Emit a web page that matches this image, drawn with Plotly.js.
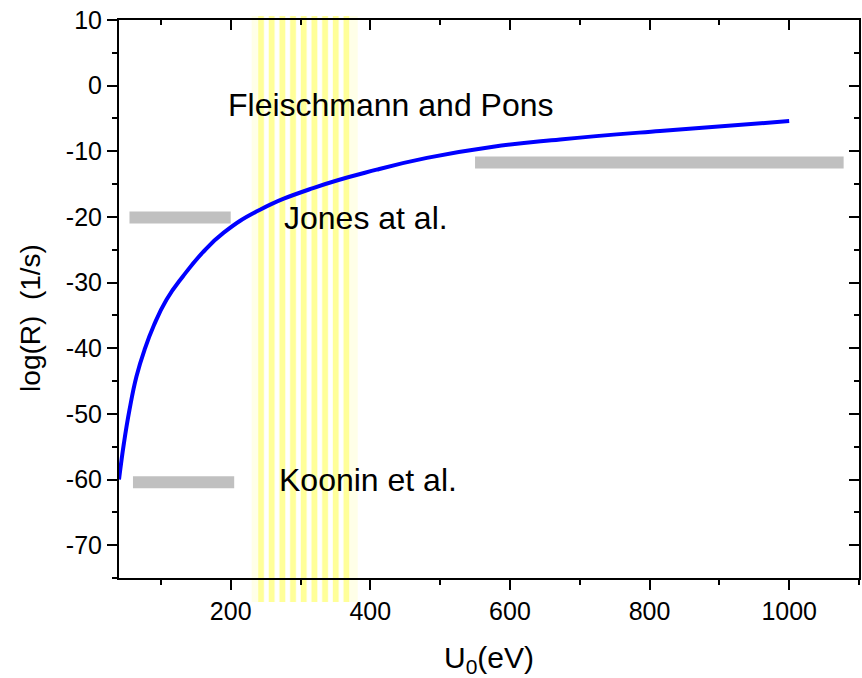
<!DOCTYPE html>
<html>
<head>
<meta charset="utf-8">
<script src="https://cdn.plot.ly/plotly-3.0.1.min.js"></script>
<style>html,body{margin:0;padding:0;background:#fff;}#chart{width:862px;height:678px;}</style>
</head>
<body>
<div id="chart"></div>
<script>
// Blue curve: log(R) vs U0
const curveU    = [40, 47, 55, 65, 77, 90, 108, 132, 160, 190, 242, 318, 409, 481, 576, 672, 815, 1000];
const curveLogR = [-60, -54.5, -49.4, -44.3, -40.1, -36.5, -32.6, -29.0, -25.4, -22.4, -18.9, -15.6, -12.8, -11.0, -9.3, -8.2, -6.9, -5.4];

// Experimental ranges (gray bars)
const expNames = ["Fleischmann and Pons", "Jones at al.", "Koonin et al."];
const expUStart = [550, 55, 60];
const expUEnd   = [1078, 200, 205];
const expLogR   = [-11.7, -20.1, -60.4];

// Label anchor positions
const labelU    = [193, 273, 266];
const labelLogR = [-3.0, -20.2, -60.1];

// Hatched yellow band of U0
const bandUStart = 230;
const bandUEnd = 382;
const stripeFirstU = 243.4;
const stripeStepU = 15.3;
const stripeCount = 9;
const stripeWidthU = 7.9;

// Tick labels (hyphen minus as in the original)
const yTickVals = [10, 0, -10, -20, -30, -40, -50, -60, -70];
const yTickText = ["10", "0", "-10", "-20", "-30", "-40", "-50", "-60", "-70"];
const xTickVals = [200, 400, 600, 800, 1000];
const xTickText = ["200", "400", "600", "800", "1000"];

const xRange = [40, 1100];
const yRange = [-75, 10];

const FONT = "Liberation Sans, Arial, sans-serif";

const traces = [];

for (let i = 0; i < expNames.length; i++) {
  traces.push({
    type: "scatter",
    mode: "lines",
    x: [expUStart[i], expUEnd[i]],
    y: [expLogR[i], expLogR[i]],
    line: {color: "#c0c0c0", width: 12},
    name: expNames[i],
    showlegend: false
  });
}

traces.push({
  type: "scatter",
  mode: "lines",
  x: curveU,
  y: curveLogR,
  line: {color: "#0000ff", width: 4, shape: "spline", smoothing: 1.3},
  name: "log(R)",
  showlegend: false
});

// dummy trace for mirrored top/right axes
traces.push({
  type: "scatter", mode: "markers", x: [xRange[0]], y: [yRange[0]],
  xaxis: "x2", yaxis: "y2", marker: {opacity: 0}, hoverinfo: "skip", showlegend: false
});

// band shapes: faint band + stripes, extending a little beyond the plot vertically
const bandPaperY0 = -0.043, bandPaperY1 = 1.007;
const shapes = [];
shapes.push({type: "rect", layer: "below", xref: "x", yref: "paper",
  x0: bandUStart, x1: bandUEnd, y0: bandPaperY0, y1: bandPaperY1,
  fillcolor: "#ffffe8", line: {width: 0}});
for (let i = 0; i < stripeCount; i++) {
  const c = stripeFirstU + i * stripeStepU;
  shapes.push({type: "rect", layer: "below", xref: "x", yref: "paper",
    x0: c - stripeWidthU / 2, x1: c + stripeWidthU / 2, y0: bandPaperY0, y1: bandPaperY1,
    fillcolor: "#ffff99", line: {width: 0}});
}
for (let i = 0; i < stripeCount - 1; i++) {
  const c = stripeFirstU + (i + 0.5) * stripeStepU;
  shapes.push({type: "rect", layer: "below", xref: "x", yref: "paper",
    x0: c - 2.5, x1: c + 2.5, y0: bandPaperY0, y1: bandPaperY1,
    fillcolor: "#ffffff", line: {width: 0}});
}

const annotations = expNames.map((t, i) => ({
  text: t, x: labelU[i], y: labelLogR[i], xref: "x", yref: "y",
  xanchor: "left", yanchor: "middle", showarrow: false,
  font: {family: FONT, size: 32, color: "#000"}
}));
annotations.push({
  text: "log(R)  (1/s)", xref: "paper", yref: "paper", x: -0.119, y: 0.466,
  xanchor: "center", yanchor: "middle", textangle: -90, showarrow: false,
  font: {family: FONT, size: 28, color: "#000"}
});

const layout = {
  width: 862, height: 678,
  margin: {l: 119, r: 3, t: 20, b: 100},
  paper_bgcolor: "#fff", plot_bgcolor: "rgba(0,0,0,0)",
  font: {family: FONT, color: "#000"},
  xaxis: {
    range: xRange, tickmode: "array", tickvals: xTickVals, ticktext: xTickText,
    ticks: "outside", ticklen: 10, tickwidth: 2,
    tickcolor: "#000", showline: true, linecolor: "#000", linewidth: 2,
    showgrid: false, zeroline: false,
    tickfont: {family: FONT, size: 25, color: "#000"},
    minor: {tickmode: "linear", tick0: 0, dtick: 100, ticks: "outside", ticklen: 5, tickwidth: 2, tickcolor: "#000", showgrid: false},
    title: {text: "U<sub>0</sub>(eV)", font: {family: FONT, size: 30, color: "#000"}, standoff: 25}
  },
  yaxis: {
    range: yRange, tickmode: "array", tickvals: yTickVals, ticktext: yTickText,
    ticks: "outside", ticklen: 10, tickwidth: 2,
    tickcolor: "#000", showline: true, linecolor: "#000", linewidth: 2,
    showgrid: false, zeroline: false,
    tickfont: {family: FONT, size: 25, color: "#000"},
    minor: {tickmode: "linear", tick0: 0, dtick: 5, ticks: "outside", ticklen: 5, tickwidth: 2, tickcolor: "#000", showgrid: false}
  },
  xaxis2: {
    overlaying: "x", side: "top", anchor: "y2", range: xRange, tick0: 0, dtick: 200,
    ticks: "inside", ticklen: 10, tickwidth: 2, tickcolor: "#000",
    showline: true, linecolor: "#000", linewidth: 2, showticklabels: false,
    showgrid: false, zeroline: false,
    minor: {dtick: 100, ticks: "inside", ticklen: 5, tickwidth: 2, tickcolor: "#000", showgrid: false}
  },
  yaxis2: {
    overlaying: "y", side: "right", anchor: "x2", range: yRange, tick0: 0, dtick: 10,
    ticks: "inside", ticklen: 10, tickwidth: 2, tickcolor: "#000",
    showline: true, linecolor: "#000", linewidth: 2, showticklabels: false,
    showgrid: false, zeroline: false,
    minor: {dtick: 5, ticks: "inside", ticklen: 5, tickwidth: 2, tickcolor: "#000", showgrid: false}
  },
  shapes: shapes,
  annotations: annotations,
  showlegend: false
};

Plotly.newPlot("chart", traces, layout, {displayModeBar: false, staticPlot: true});
</script>
</body>
</html>
